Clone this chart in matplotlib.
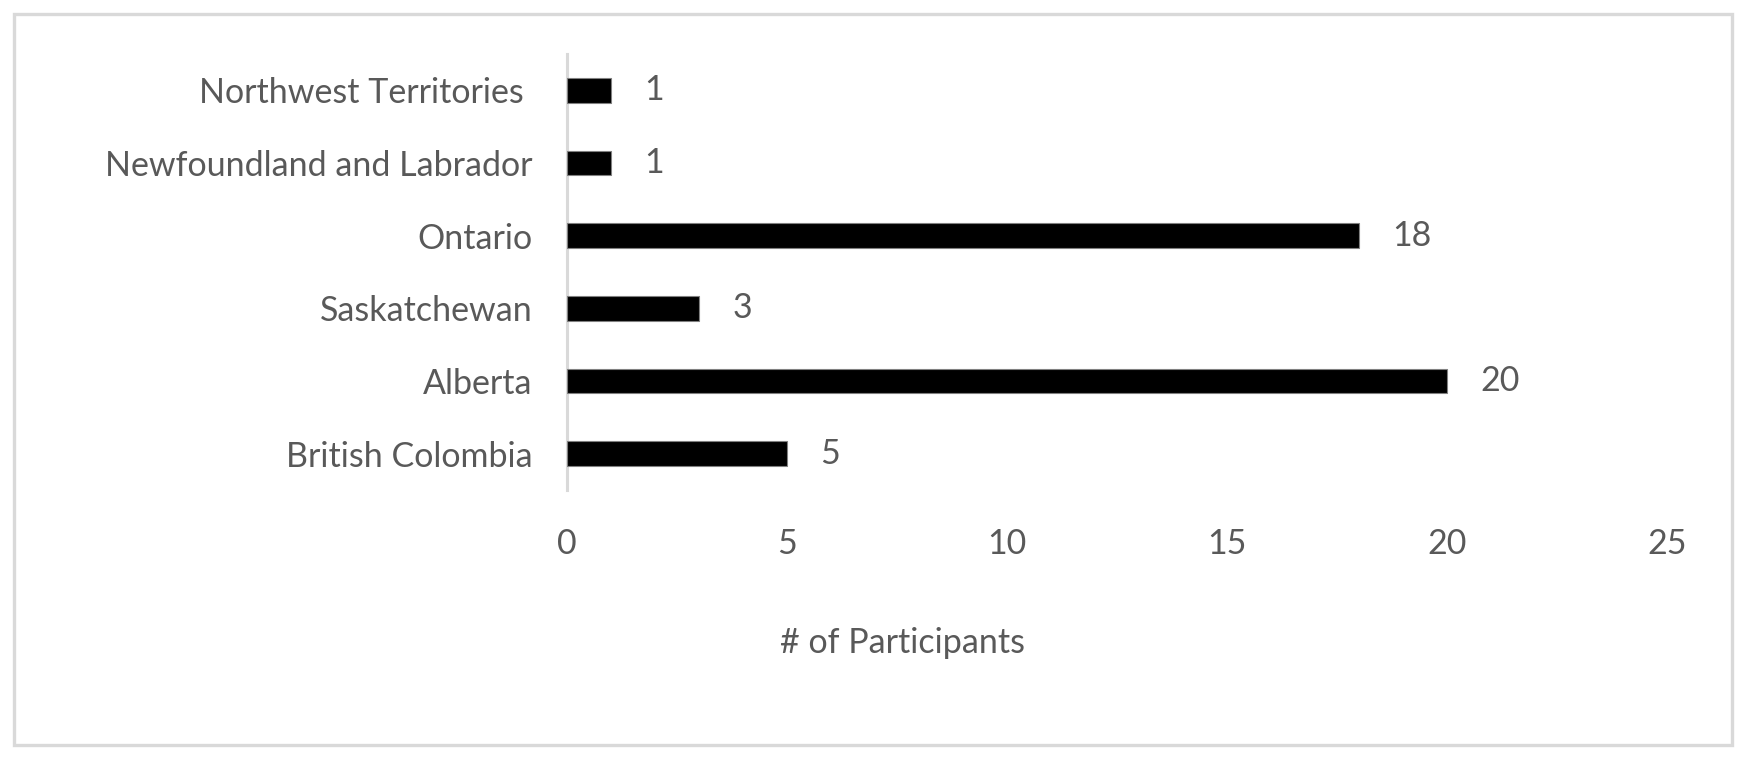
import matplotlib
matplotlib.use("Agg")
import matplotlib.pyplot as plt
from matplotlib.patches import Rectangle

# data (bottom to top, as drawn)
provinces = ["British Colombia", "Alberta", "Saskatchewan", "Ontario",
             "Newfoundland and Labrador", "Northwest Territories "]
participants = [5, 20, 3, 18, 1, 1]
x_ticks = [0, 5, 10, 15, 20, 25]

TEXT = "#595959"
GRID = "#d9d9d9"
FS = 24.5

plt.rcParams["font.family"] = ["Lato", "DejaVu Sans"]

W, H = 1746, 759
fig = plt.figure(figsize=(W / 100, H / 100), dpi=100)

# axes box in pixel terms: x 567..1667, y 54..490
ax = fig.add_axes([567 / W, 1 - 490 / H, 1100 / W, 436 / H])

ypos = range(len(provinces))
ax.barh(ypos, participants, height=0.34, color="black",
        edgecolor="#808080", linewidth=0.8, zorder=3)

for y, v in zip(ypos, participants):
    ax.annotate(str(v), xy=(v, y), xytext=(24, 0), textcoords="offset points",
                ha="left", va="center", fontsize=FS, color=TEXT)

ax.set_xlim(0, 25)
ax.set_ylim(-0.5, len(provinces) - 0.5)
ax.set_xticks(x_ticks)
ax.set_xticklabels([str(t) for t in x_ticks])
ax.set_yticks(list(ypos))
ax.set_yticklabels(provinces)
ax.tick_params(axis="x", length=0, pad=27, labelsize=FS, colors=TEXT)
ax.tick_params(axis="y", length=0, pad=25, labelsize=FS, colors=TEXT)

for side in ["top", "right", "bottom"]:
    ax.spines[side].set_visible(False)
ax.spines["left"].set_color(GRID)
ax.spines["left"].set_linewidth(2.2)

# axis title sits left of the plot centre in the original
fig.text(902 / W, 1 - 643 / H, "# of Participants", fontsize=FS,
         color=TEXT, ha="center", va="center")

# outer frame around the whole chart
fig.patches.append(Rectangle((14 / W, 1 - 745 / H), 1718 / W, 731 / H,
                             transform=fig.transFigure, fill=False,
                             edgecolor=GRID, linewidth=2.4))

fig.savefig("out.png", dpi=100)
